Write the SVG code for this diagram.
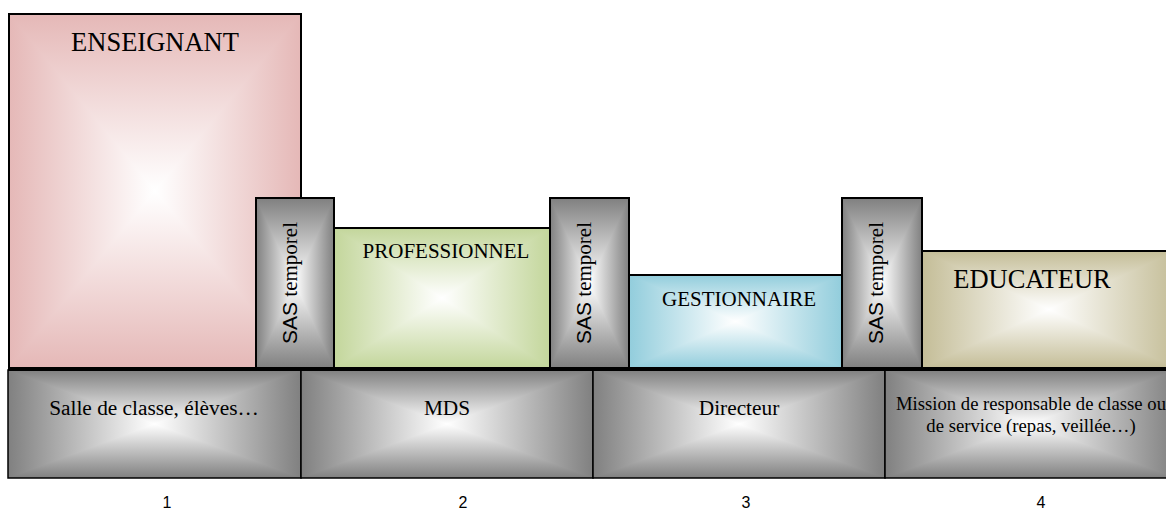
<svg xmlns="http://www.w3.org/2000/svg" width="1166" height="526" viewBox="0 0 1166 526">
<style>
.serif{font-family:"Liberation Serif","Times New Roman",serif;fill:#000}
.sans{font-family:"Liberation Sans",Arial,sans-serif;fill:#000}
.out{fill:none;stroke:#000;stroke-width:2}
.outb{fill:none;stroke:#000;stroke-width:1.5}
</style>
<defs>
<linearGradient id="pinkH" x1="0" y1="0" x2="0.5" y2="0" spreadMethod="reflect"><stop offset="0" stop-color="#E5B8B7"/><stop offset="1" stop-color="#FFFFFF"/></linearGradient>
<linearGradient id="pinkV" href="#pinkH" x1="0" y1="0" x2="0" y2="0.5"/>
<linearGradient id="greenH" x1="0" y1="0" x2="0.5" y2="0" spreadMethod="reflect"><stop offset="0" stop-color="#C3D69B"/><stop offset="1" stop-color="#FFFFFF"/></linearGradient>
<linearGradient id="greenV" href="#greenH" x1="0" y1="0" x2="0" y2="0.5"/>
<linearGradient id="blueH" x1="0" y1="0" x2="0.5" y2="0" spreadMethod="reflect"><stop offset="0" stop-color="#92CDDC"/><stop offset="1" stop-color="#FFFFFF"/></linearGradient>
<linearGradient id="blueV" href="#blueH" x1="0" y1="0" x2="0" y2="0.5"/>
<linearGradient id="tanH" x1="0" y1="0" x2="0.5" y2="0" spreadMethod="reflect"><stop offset="0" stop-color="#C4BD97"/><stop offset="1" stop-color="#FFFFFF"/></linearGradient>
<linearGradient id="tanV" href="#tanH" x1="0" y1="0" x2="0" y2="0.5"/>
<linearGradient id="grayH" x1="0" y1="0" x2="0.5" y2="0" spreadMethod="reflect"><stop offset="0" stop-color="#808080"/><stop offset="1" stop-color="#FFFFFF"/></linearGradient>
<linearGradient id="grayV" href="#grayH" x1="0" y1="0" x2="0" y2="0.5"/>
</defs>

<g id="enseignant">
<rect x="9" y="14" width="292" height="354" fill="url(#pinkH)"/>
<path d="M9,14 L301,14 L155,191 Z M9,368 L301,368 L155,191 Z" fill="url(#pinkV)"/>
<rect class="out" x="9" y="14" width="292" height="354"/>
<text class="serif" x="155" y="50.5" font-size="26.5" text-anchor="middle">ENSEIGNANT</text>
</g>

<g id="sas1">
<rect x="256" y="198" width="78" height="170" fill="url(#grayH)"/>
<path d="M256,198 L334,198 L295,283 Z M256,368 L334,368 L295,283 Z" fill="url(#grayV)"/>
<rect class="out" x="256" y="198" width="78" height="170"/>
<text transform="translate(297,283) rotate(-90)" font-size="21" text-anchor="middle"><tspan class="sans">SAS</tspan><tspan class="serif"> temporel</tspan></text>
</g>

<g id="professionnel">
<rect x="334" y="228" width="216" height="140" fill="url(#greenH)"/>
<path d="M334,228 L550,228 L442,298 Z M334,368 L550,368 L442,298 Z" fill="url(#greenV)"/>
<rect class="out" x="334" y="228" width="216" height="140"/>
<text class="serif" x="446" y="258" font-size="21" text-anchor="middle">PROFESSIONNEL</text>
</g>

<g id="sas2">
<rect x="550" y="198" width="79" height="170" fill="url(#grayH)"/>
<path d="M550,198 L629,198 L589.5,283 Z M550,368 L629,368 L589.5,283 Z" fill="url(#grayV)"/>
<rect class="out" x="550" y="198" width="79" height="170"/>
<text transform="translate(591,283) rotate(-90)" font-size="21" text-anchor="middle"><tspan class="sans">SAS</tspan><tspan class="serif"> temporel</tspan></text>
</g>

<g id="gestionnaire">
<rect x="629" y="275" width="213" height="93" fill="url(#blueH)"/>
<path d="M629,275 L842,275 L735.5,321.5 Z M629,368 L842,368 L735.5,321.5 Z" fill="url(#blueV)"/>
<rect class="out" x="629" y="275" width="213" height="93"/>
<text class="serif" x="739" y="306" font-size="21" text-anchor="middle">GESTIONNAIRE</text>
</g>

<g id="sas3">
<rect x="842" y="198" width="80" height="170" fill="url(#grayH)"/>
<path d="M842,198 L922,198 L882,283 Z M842,368 L922,368 L882,283 Z" fill="url(#grayV)"/>
<rect class="out" x="842" y="198" width="80" height="170"/>
<text transform="translate(883,283) rotate(-90)" font-size="21" text-anchor="middle"><tspan class="sans">SAS</tspan><tspan class="serif"> temporel</tspan></text>
</g>

<g id="educateur">
<rect x="922" y="251" width="254" height="117" fill="url(#tanH)"/>
<path d="M922,251 L1176,251 L1049,309.5 Z M922,368 L1176,368 L1049,309.5 Z" fill="url(#tanV)"/>
<rect class="out" x="922" y="251" width="254" height="117"/>
<text class="serif" x="1032" y="288" font-size="26.5" text-anchor="middle">EDUCATEUR</text>
</g>

<g id="salle">
<rect x="8" y="370" width="293" height="108" fill="url(#grayH)"/>
<path d="M8,370 L301,370 L154.5,424 Z M8,478 L301,478 L154.5,424 Z" fill="url(#grayV)"/>
<rect class="outb" x="8" y="370" width="293" height="108"/>
<text class="serif" x="154" y="415" font-size="21.33" text-anchor="middle">Salle de classe, élèves…</text>
</g>

<g id="mds">
<rect x="301" y="370" width="292" height="108" fill="url(#grayH)"/>
<path d="M301,370 L593,370 L447,424 Z M301,478 L593,478 L447,424 Z" fill="url(#grayV)"/>
<rect class="outb" x="301" y="370" width="292" height="108"/>
<text class="serif" x="447" y="415" font-size="21.33" text-anchor="middle">MDS</text>
</g>

<g id="directeur">
<rect x="593" y="370" width="292" height="108" fill="url(#grayH)"/>
<path d="M593,370 L885,370 L739,424 Z M593,478 L885,478 L739,424 Z" fill="url(#grayV)"/>
<rect class="outb" x="593" y="370" width="292" height="108"/>
<text class="serif" x="739" y="415" font-size="21.33" text-anchor="middle">Directeur</text>
</g>

<g id="mission">
<rect x="885" y="370" width="291" height="108" fill="url(#grayH)"/>
<path d="M885,370 L1176,370 L1030.5,424 Z M885,478 L1176,478 L1030.5,424 Z" fill="url(#grayV)"/>
<rect class="outb" x="885" y="370" width="291" height="108"/>
<text class="serif" font-size="18.67" text-anchor="middle"><tspan x="1031" y="410">Mission de responsable de classe ou</tspan><tspan x="1031" y="432">de service (repas, veillée…)</tspan></text>
</g>

<g id="connectors">
<line x1="8" y1="369" x2="1166" y2="369" stroke="#000" stroke-width="4"/>
</g>

<g id="numbers">
<text class="sans" x="167" y="508" font-size="16" text-anchor="middle">1</text>
<text class="sans" x="463" y="508" font-size="16" text-anchor="middle">2</text>
<text class="sans" x="746" y="508" font-size="16" text-anchor="middle">3</text>
<text class="sans" x="1041" y="508" font-size="16" text-anchor="middle">4</text>
</g>
</svg>
